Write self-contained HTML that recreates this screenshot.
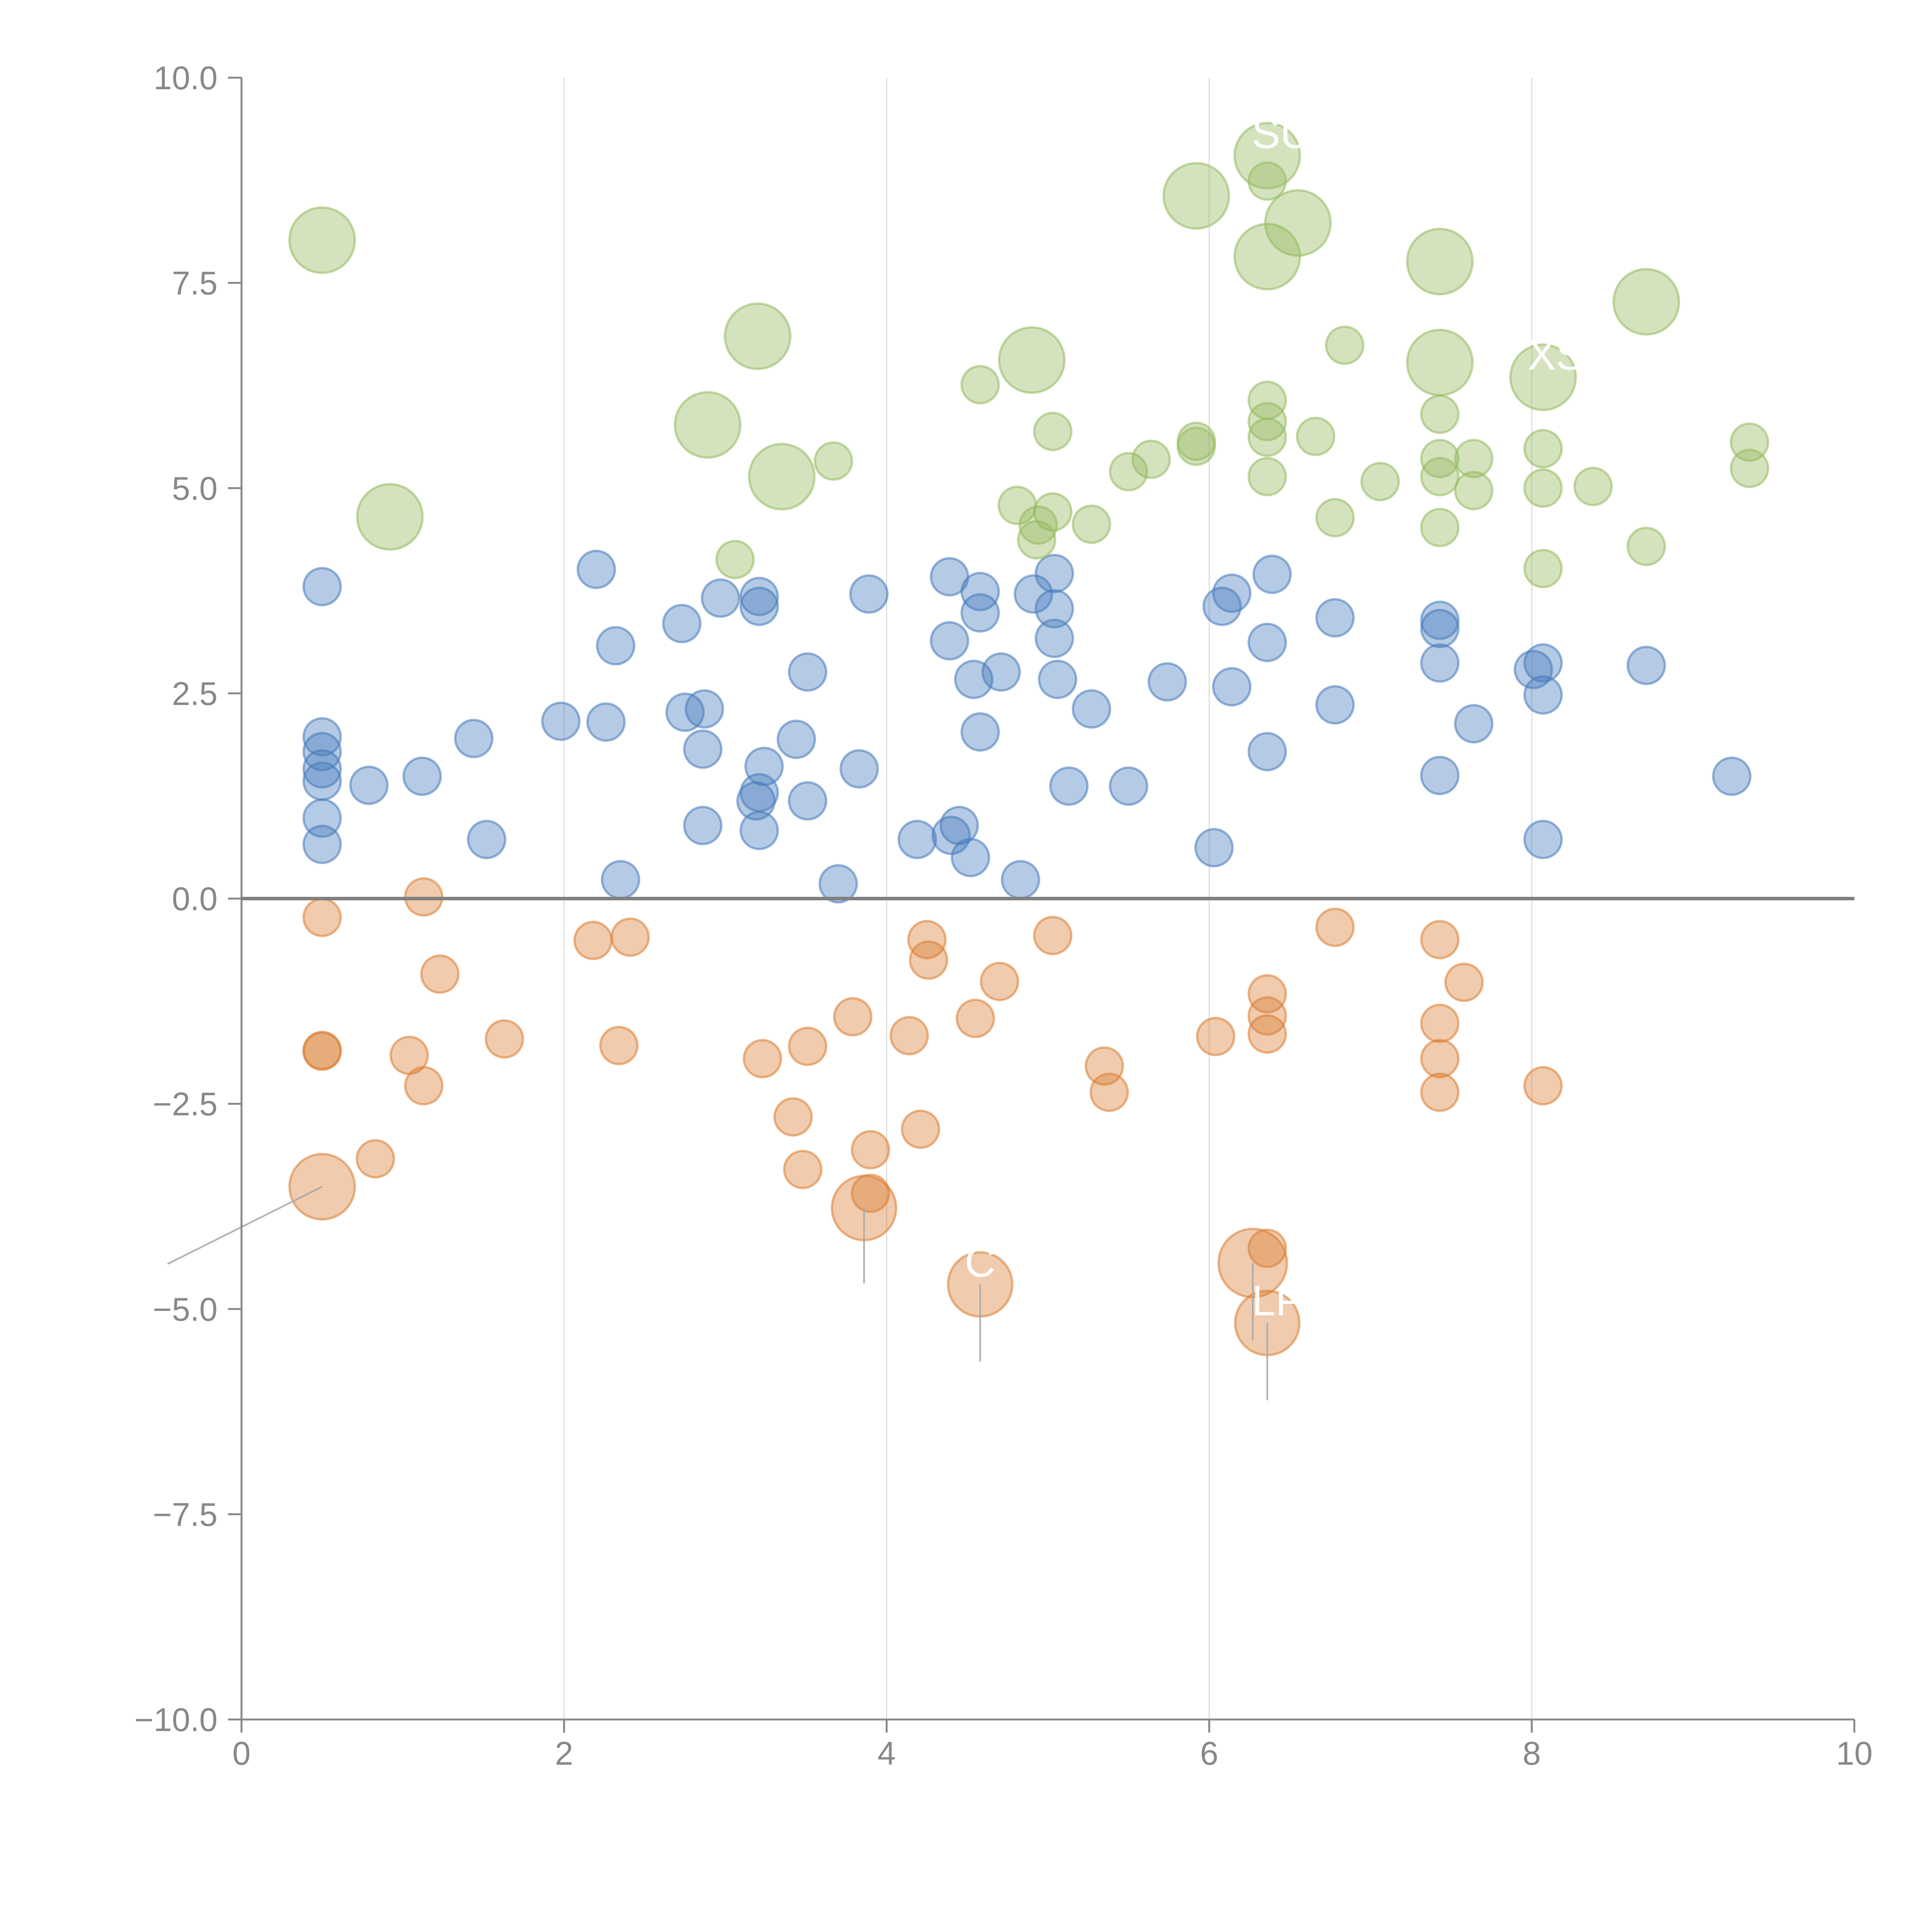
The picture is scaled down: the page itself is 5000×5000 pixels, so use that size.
<!DOCTYPE html>
<html><head><meta charset="utf-8"><style>
html,body{margin:0;padding:0;background:#fff}
svg{display:block}
text{font-family:"Liberation Sans",Arial,sans-serif}
</style></head><body>
<svg id="chart" width="5000" height="5000" viewBox="0 0 5000 5000" xmlns="http://www.w3.org/2000/svg">
<g id="grid"></g>
<g id="axes"></g>
<g id="marks"></g>
<g id="ann"></g>
</svg>
<script>
const xTicks=[0,2,4,6,8,10];
const xTickLabels=["0","2","4","6","8","10"];
const yTicks=[-10,-7.5,-5,-2.5,0,2.5,5,7.5,10];
const yTickLabels=["\u221210.0","\u22127.5","\u22125.0","\u22122.5","0.0","2.5","5.0","7.5","10.0"];

const blueX=[0.50,0.50,0.50,0.50,0.50,0.50,0.50,0.79,1.12,1.44,1.52,1.98,2.20,2.26,2.32,2.35,2.73,2.75,2.87,2.86,2.86,2.97,3.21,3.21,3.24,3.19,3.21,3.21,3.44,3.51,3.51,3.70,3.83,3.89,4.19,4.39,4.39,4.40,4.45,4.52,4.54,4.58,4.58,4.58,4.71,4.83,4.91,5.04,5.04,5.04,5.06,5.13,5.27,5.50,5.74,6.03,6.08,6.14,6.14,6.36,6.36,6.39,6.78,6.78,7.43,7.43,7.43,7.43,7.64,8.01,8.07,8.07,8.07,8.71,9.24];
const blueY=[3.80,1.97,1.79,1.58,1.43,0.98,0.66,1.38,1.49,1.95,0.72,2.16,4.01,2.15,3.08,0.23,3.35,2.27,2.31,1.82,0.89,3.66,3.68,3.56,1.61,1.19,1.29,0.83,1.94,2.76,1.19,0.18,1.58,3.71,0.72,3.92,3.14,0.77,0.89,0.50,2.67,3.74,3.48,2.03,2.76,0.23,3.71,3.96,3.53,3.17,2.67,1.37,2.31,1.37,2.64,0.62,3.56,3.72,2.58,3.12,1.79,3.95,3.42,2.36,3.39,3.29,2.87,1.50,2.13,2.79,2.87,2.48,0.72,2.84,1.49];

const orangeX=[0.50,0.50,0.50,0.50,0.83,1.04,1.13,1.13,1.23,1.63,2.18,2.41,2.34,3.23,3.42,3.48,3.51,3.79,3.90,3.90,3.86,4.14,4.21,4.25,4.26,4.55,4.58,4.70,5.03,5.35,5.38,6.04,6.27,6.36,6.36,6.36,6.36,6.36,6.78,7.43,7.43,7.43,7.43,7.58,8.07];
const orangeY=[-0.23,-1.85,-1.86,-3.51,-3.17,-1.91,-2.28,0.02,-0.92,-1.71,-0.51,-0.47,-1.79,-1.95,-2.66,-3.30,-1.80,-1.44,-3.06,-3.59,-3.77,-1.67,-2.81,-0.50,-0.75,-1.46,-4.70,-1.01,-0.45,-2.04,-2.36,-1.68,-4.44,-1.16,-1.43,-1.65,-4.26,-5.17,-0.35,-0.50,-1.52,-1.95,-2.36,-1.02,-2.28];
const orangeS=[1,1,1,3.1,1,1,1,1,1,1,1,1,1,1,1,1,1,1,1,1,3.0,1,1,1,1,1,3.0,1,1,1,1,1,3.4,1,1,1,1,3.0,1,1,1,1,1,1,1];

const greenX=[0.50,0.92,3.06,2.89,3.20,3.35,3.67,4.58,4.81,4.90,4.94,4.93,5.03,5.03,5.27,5.50,5.64,5.92,5.92,5.92,6.36,6.36,6.36,6.55,6.36,6.36,6.36,6.36,6.66,6.78,6.84,7.06,7.43,7.43,7.43,7.43,7.43,7.43,7.64,7.64,8.07,8.07,8.07,8.07,8.38,8.71,8.71,9.35,9.35];
const greenY=[8.02,4.65,4.13,5.77,6.85,5.14,5.33,6.26,4.79,6.56,4.55,4.37,4.71,5.69,4.56,5.20,5.35,8.56,5.57,5.51,9.05,8.74,7.82,8.23,6.07,5.81,5.62,5.14,5.63,4.64,6.74,5.08,7.76,6.53,5.90,5.36,5.14,4.52,5.36,4.97,6.35,5.48,5.00,4.02,5.02,7.27,4.29,5.56,5.24];
const greenS=[3.1,3.1,1,3.1,3.1,3.1,1,1,1,3.1,1,1,1,1,1,1,1,3.1,1,1,3.1,1,3.1,3.1,1,1,1,1,1,1,1,1,3.1,3.1,1,1,1,1,1,1,3.1,1,1,1,1,3.1,1,1,1];

// annotation leader lines: data point + pixel offset of line end
const annX=[0.50,3.86,4.58,6.27,6.36];
const annY=[-3.51,-3.77,-4.70,-4.44,-5.17];
const annDX=[-400,0,0,0,0];
const annDY=[200,195,200,200,200];
const labelX=[6.36,6.36,8.07,4.58];
const labelY=[9.05,-5.17,6.35,-4.70];
const labelText=["SU","LP","XS","C"];

const X0=625,X1=4799,YT=201,YB=4450;
const sx=v=>X0+(v-0)/(10-0)*(X1-X0);
const sy=v=>YB-(v+10)/20*(YB-YT);
const NS="http://www.w3.org/2000/svg";
function mk(tag,attrs,parent){const e=document.createElementNS(NS,tag);for(const k in attrs)e.setAttribute(k,attrs[k]);parent.appendChild(e);return e;}
const grid=document.getElementById('grid'),axes=document.getElementById('axes'),marks=document.getElementById('marks'),ann=document.getElementById('ann');

xTicks.forEach((t,i)=>{
  if(t>0&&t<10){const g=mk('line',{x1:sx(t),x2:sx(t),y1:YT,y2:YB,stroke:'#dddddd','stroke-width':3},grid);
  
  }
  const tk=mk('line',{x1:sx(t),x2:sx(t),y1:YB,y2:YB+34,stroke:'#888','stroke-width':5},axes);
  
  
  const lb=mk('text',{x:sx(t),y:4567,'text-anchor':'middle','font-size':85,fill:'#888'},axes);
  lb.textContent=xTickLabels[i];
  
  
});
yTicks.forEach((t,i)=>{
  const tk=mk('line',{x1:X0-35,x2:X0,y1:sy(t),y2:sy(t),stroke:'#888','stroke-width':5},axes);
  
  
  const lb=mk('text',{x:563,y:sy(t)+30,'text-anchor':'end','font-size':85,fill:'#888'},axes);
  lb.textContent=yTickLabels[i];
  
  
});
const ya=mk('line',{x1:X0,x2:X0,y1:YT,y2:YB+34,stroke:'#888','stroke-width':5},axes);


const xa=mk('line',{x1:X0-35,x2:X1,y1:YB,y2:YB,stroke:'#888','stroke-width':5},axes);



function series(xs,ys,ss,col,name){
  xs.forEach((x,i)=>{
    const s=ss?ss[i]:1;
    const c=mk('circle',{cx:sx(x),cy:sy(ys[i]),r:48*Math.sqrt(s),fill:col,'fill-opacity':0.4,stroke:col,'stroke-opacity':0.55,'stroke-width':6},marks);
    
    
  });
}
series(blueX,blueY,null,'rgb(70,122,188)','bubble-blue');
series(orangeX,orangeY,orangeS,'rgb(218,125,50)','bubble-orange');
series(greenX,greenY,greenS,'rgb(148,185,92)','bubble-green');

const zl=mk('line',{x1:X0,x2:X1,y1:sy(0),y2:sy(0),stroke:'#808080','stroke-width':9},axes);


document.getElementById('chart').appendChild(axes);

annX.forEach((x,i)=>{
  const l=mk('line',{x1:sx(x),y1:sy(annY[i]),x2:sx(x)+annDX[i],y2:sy(annY[i])+annDY[i],stroke:'#aaaaaa','stroke-width':4},ann);
  
  
});
labelX.forEach((x,i)=>{
  const t=mk('text',{x:sx(x)-40,y:sy(labelY[i])-20,'font-size':110,fill:'#ffffff'},ann);
  t.textContent=labelText[i];
  
  
});
</script>
</body></html>
